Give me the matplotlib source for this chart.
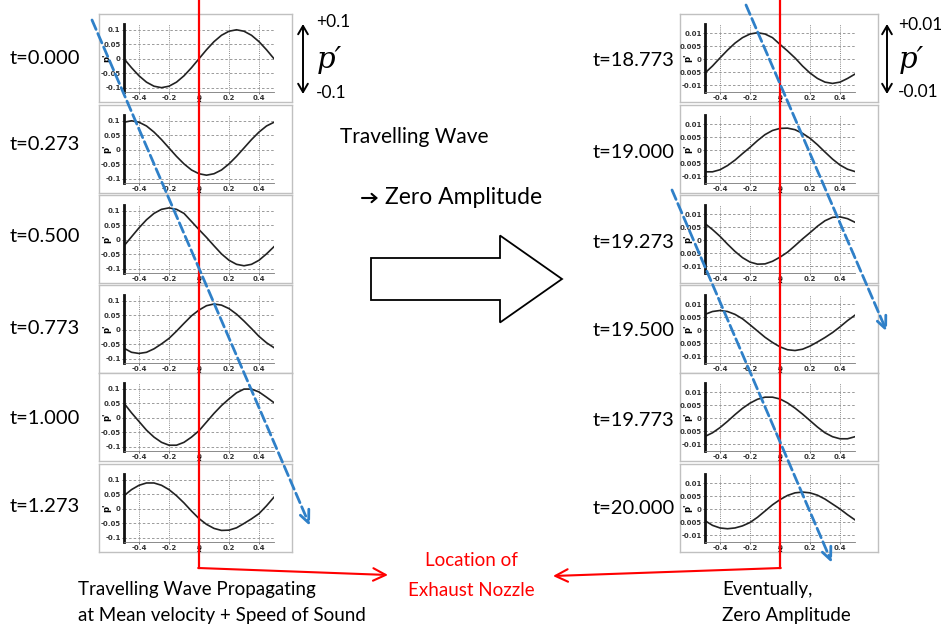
import numpy as np
import matplotlib
matplotlib.use("Agg")
import matplotlib.pyplot as plt
from matplotlib.patches import FancyArrow

W, H = 948, 630
plt.rcParams['font.family'] = ['Lato', 'DejaVu Sans']

# sample positions along the duct (x), same for every panel
x_pts = np.round(np.arange(-0.5, 0.501, 0.05), 2)

# left column, early times (p' ~ 0.1)
left_times = ["0.000", "0.273", "0.500", "0.773", "1.000", "1.273"]
p_t0000 = [0, -0.031, -0.059, -0.081, -0.095, -0.1, -0.095, -0.081, -0.059, -0.031, 0,
           0.031, 0.059, 0.081, 0.095, 0.1, 0.095, 0.081, 0.059, 0.031, 0]
p_t0273 = [0.095, 0.100, 0.095, 0.082, 0.061, 0.035, 0.006, -0.023, -0.049, -0.070, -0.083,
           -0.088, -0.083, -0.070, -0.049, -0.023, 0.006, 0.035, 0.061, 0.082, 0.095]
p_t0500 = [-0.021, 0.01, 0.041, 0.069, 0.091, 0.105, 0.11, 0.105, 0.091, 0.063, 0.035,
           0.008, -0.021, -0.049, -0.071, -0.085, -0.09, -0.085, -0.071, -0.049, -0.024]
p_t0773 = [-0.064, -0.078, -0.082, -0.078, -0.066, -0.049, -0.030, -0.005, 0.022, 0.048, 0.068,
           0.083, 0.089, 0.085, 0.073, 0.054, 0.030, 0.004, -0.023, -0.045, -0.062]
p_t1000 = [0.050, 0.017, -0.013, -0.043, -0.067, -0.085, -0.095, -0.095, -0.085, -0.067, -0.045,
           -0.015, 0.015, 0.042, 0.065, 0.086, 0.099, 0.099, 0.089, 0.071, 0.052]
p_t1273 = [0.045, 0.066, 0.081, 0.089, 0.089, 0.081, 0.066, 0.045, 0.020, -0.008, -0.034,
           -0.054, -0.068, -0.075, -0.074, -0.066, -0.051, -0.035, -0.017, 0.010, 0.040]
left_series = [p_t0000, p_t0273, p_t0500, p_t0773, p_t1000, p_t1273]

# right column, late times (p' ~ 0.01)
right_times = ["18.773", "19.000", "19.273", "19.500", "19.773", "20.000"]
p_t18773 = [-0.0052, -0.0025, 0.0006, 0.0036, 0.0063, 0.0084, 0.0098, 0.0103, 0.0098, 0.0084, 0.0058,
            0.0033, 0.0006, -0.0025, -0.0052, -0.0073, -0.0087, -0.0092, -0.0087, -0.0073, -0.0056]
p_t19000 = [-0.0082, -0.0082, -0.0074, -0.0058, -0.0037, -0.0012, 0.0012, 0.0038, 0.0061, 0.0077, 0.0085,
            0.0086, 0.0080, 0.0066, 0.0047, 0.0022, -0.0006, -0.0033, -0.0056, -0.0072, -0.0081]
p_t19273 = [0.0065, 0.0042, 0.0016, -0.0014, -0.0042, -0.0066, -0.0083, -0.0091, -0.0090, -0.0080, -0.0064,
            -0.0045, -0.0020, 0.0006, 0.0030, 0.0055, 0.0076, 0.0089, 0.0091, 0.0084, 0.0070]
p_t19500 = [0.0062, 0.0073, 0.0077, 0.0073, 0.0062, 0.0045, 0.0022, -0.0002, -0.0026, -0.0046, -0.0063,
            -0.0074, -0.0077, -0.0072, -0.0060, -0.0044, -0.0027, -0.0008, 0.0014, 0.0038, 0.0059]
p_t19773 = [-0.0069, -0.0055, -0.0035, -0.0011, 0.0015, 0.0039, 0.0059, 0.0074, 0.0082, 0.0082, 0.0075,
            0.0060, 0.0040, 0.0017, -0.0008, -0.0033, -0.0055, -0.0070, -0.0078, -0.0078, -0.0070]
p_t20000 = [-0.0043, -0.0061, -0.0071, -0.0074, -0.0071, -0.0063, -0.0050, -0.0030, -0.0006, 0.0018, 0.0038,
            0.0054, 0.0064, 0.0067, 0.0064, 0.0055, 0.0040, 0.0021, 0.0002, -0.0020, -0.0040]
right_series = [p_t18773, p_t19000, p_t19273, p_t19500, p_t19773, p_t20000]

left_yticks = [0.1, 0.05, 0, -0.05, -0.1]
left_ylabels = ["0.1", "0.05", "0", "-0.05", "-0.1"]
right_yticks = [0.01, 0.005, 0, -0.005, -0.01]
right_ylabels = ["0.01", "0.005", "0", "0.005", "-0.01"]
xticks = [-0.4, -0.2, 0, 0.2, 0.4]

box_tops = [14, 105, 195, 285, 373, 464]
box_h = 88


def frac(x, y, w, h):
    return [x / W, 1 - (y + h) / H, w / W, h / H]


fig = plt.figure(figsize=(W / 100, H / 100), dpi=100)


def make_panel(box_x, box_y, box_w, vals, yticks, ylabels, ylim):
    box = fig.add_axes(frac(box_x, box_y, box_w, box_h))
    box.set_xticks([])
    box.set_yticks([])
    for s in box.spines.values():
        s.set_color("#c0c0c0")
        s.set_linewidth(1)
    ax = fig.add_axes(frac(box_x + 25, box_y + 10, 150, 68))
    ax.patch.set_alpha(0)
    ax.plot(x_pts, vals, color="#222222", lw=1.2)
    ax.set_xlim(-0.5, 0.5)
    ax.set_ylim(*ylim)
    ax.set_xticks(xticks)
    ax.set_xticklabels(["-0.4", "-0.2", "0", "0.2", "0.4"])
    ax.set_yticks(yticks)
    ax.set_yticklabels(ylabels)
    for x in xticks:
        ax.axvline(x, color="#8a8a8a", lw=0.7, ls=(0, (1, 1.2)), zorder=0)
    for y in yticks:
        ax.axhline(y, color="#8a8a8a", lw=0.6, ls=(0, (3, 2.5)), zorder=0)
    for s in ["top", "right"]:
        ax.spines[s].set_visible(False)
    ax.spines["left"].set_linewidth(2)
    ax.spines["left"].set_color("#111111")
    ax.spines["bottom"].set_linewidth(0.6)
    ax.spines["bottom"].set_color("#777777")
    ax.tick_params(labelsize=5, length=1.5, width=0.5, pad=1, colors="#333333")
    for lab in ax.get_xticklabels() + ax.get_yticklabels():
        lab.set_fontweight("bold")
        lab.set_family("DejaVu Sans")
    ax.set_ylabel("p'", fontsize=6, fontweight="bold", family="DejaVu Sans")
    ax.yaxis.set_label_coords(-0.085, 0.5)
    ax.set_xlabel("x", fontsize=5, fontweight="bold", family="DejaVu Sans")
    ax.xaxis.set_label_coords(0.5, -0.07)
    return ax


left_axes = []
right_axes = []
for i in range(6):
    left_axes.append(make_panel(99, box_tops[i], 193, left_series[i],
                                left_yticks, left_ylabels, (-0.115, 0.12)))
    right_axes.append(make_panel(680, box_tops[i], 198, right_series[i],
                                 right_yticks, right_ylabels, (-0.0125, 0.01365)))

# overlay in pixel coordinates for the annotations
ov = fig.add_axes([0, 0, 1, 1], zorder=10)
ov.set_xlim(0, W)
ov.set_ylim(H, 0)
ov.axis("off")
ov.patch.set_alpha(0)

blue = "#2F80C8"
red = "#FF0000"
note_size = 13.5
time_size = 14.5

# exhaust nozzle location (x = 0 of the panels)
xl = left_axes[0].transData.transform((0, 0))[0]
xr = right_axes[0].transData.transform((0, 0))[0]
ov.plot([xl, xl], [0, 568], color=red, lw=1.6)
ov.plot([xr, xr], [0, 568], color=red, lw=1.6)
ov.annotate("", xy=(388, 575), xytext=(xl - 0.8, 568),
            arrowprops=dict(arrowstyle="->,head_length=0.9,head_width=0.45", color=red,
                            lw=1.5, shrinkA=0, shrinkB=0))
ov.annotate("", xy=(553, 576), xytext=(xr + 0.8, 568),
            arrowprops=dict(arrowstyle="->,head_length=0.9,head_width=0.45", color=red,
                            lw=1.5, shrinkA=0, shrinkB=0))

# travelling wave direction
for start, end in [((92, 20), (310, 526)), ((746, 5), (887, 332)), ((672, 190), (832, 563))]:
    ov.annotate("", xy=end, xytext=start,
                arrowprops=dict(arrowstyle="->,head_length=0.9,head_width=0.4", color=blue,
                                lw=2, ls="--", shrinkA=0, shrinkB=0))

# amplitude scale arrows
ov.annotate("", xy=(303, 24), xytext=(303, 94),
            arrowprops=dict(arrowstyle="<->,head_length=0.6,head_width=0.35", color="black",
                            lw=1.4, shrinkA=0, shrinkB=0))
ov.annotate("", xy=(887, 24), xytext=(887, 94),
            arrowprops=dict(arrowstyle="<->,head_length=0.6,head_width=0.35", color="black",
                            lw=1.4, shrinkA=0, shrinkB=0))
ov.text(316, 22, "+0.1", fontsize=12.5, va="center")
ov.text(316, 93, "-0.1", fontsize=12.5, va="center")
ov.text(317, 60, "p\u2032", fontsize=21, va="center", family="DejaVu Serif", style="italic")
ov.text(898, 25, "+0.01", fontsize=12.5, va="center")
ov.text(898, 92, "-0.01", fontsize=12.5, va="center")
ov.text(899, 60, "p\u2032", fontsize=21, va="center", family="DejaVu Serif", style="italic")

# time labels
left_label_y = [58, 145, 237, 329, 418, 506]
right_label_y = [60, 153, 243, 330, 420, 508]
for i in range(6):
    ov.text(10, left_label_y[i], "t=" + left_times[i], fontsize=time_size, va="center")
    ov.text(593, right_label_y[i], "t=" + right_times[i], fontsize=time_size, va="center")

# middle text and big arrow
ov.text(340, 137, "Travelling Wave", fontsize=15, va="center")
ov.annotate("", xy=(378, 198), xytext=(362, 198),
            arrowprops=dict(arrowstyle="->,head_length=0.35,head_width=0.3", color="black",
                            lw=1.5, shrinkA=0, shrinkB=0))
ov.text(385, 197, "Zero Amplitude", fontsize=16.5, va="center")
ov.add_patch(FancyArrow(371, 279, 191, 0, width=42, head_width=87, head_length=62,
                        length_includes_head=True, facecolor="white", edgecolor="black", lw=1.3))

# bottom notes
ov.text(78, 590, "Travelling Wave Propagating", fontsize=note_size, va="center")
ov.text(78, 615, "at Mean velocity + Speed of Sound", fontsize=note_size, va="center")
ov.text(471, 561, "Location of", fontsize=note_size, va="center", ha="center", color=red)
ov.text(471, 590, "Exhaust Nozzle", fontsize=note_size, va="center", ha="center", color=red)
ov.text(722, 590, "Eventually,", fontsize=note_size, va="center")
ov.text(722, 615, "Zero Amplitude", fontsize=note_size, va="center")

fig.savefig("out.png", dpi=100)
